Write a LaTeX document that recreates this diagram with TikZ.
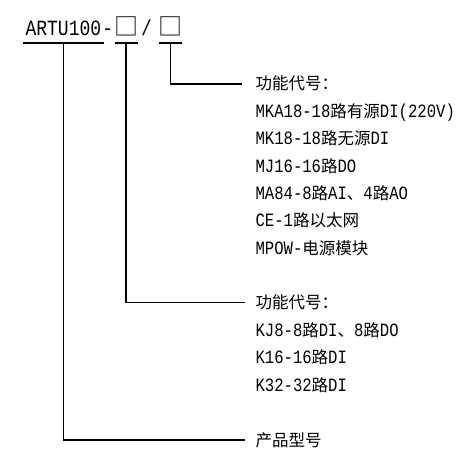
\documentclass[tikz,border=0pt]{standalone}
\usepackage{fontspec}
\setmainfont{Noto Sans CJK SC}
\newfontfamily\latfont{Liberation Mono}[FakeStretch=0.83]
\newcommand\latn[1]{{\latfont\fontsize{18.8bp}{20bp}\selectfont #1}}
\newcommand\ttl[1]{{\latfont\fontsize{21.7bp}{24bp}\selectfont #1}}
\begin{document}
\begin{tikzpicture}[x=1bp,y=-1bp,line width=1.1bp,
  txt/.style={inner sep=0,anchor=west,text height=14bp,text depth=2bp,font=\fontsize{16.5bp}{20bp}\selectfont},
  ttlpart/.style={inner sep=0,anchor=base west},
  boxglyph/.style={inner sep=0,font=\fontsize{24bp}{26bp}\selectfont}]
\useasboundingbox (0,0) rectangle (474,476);
% title
\node[ttlpart,inner xsep=2bp] (m) at (23,36) {\ttl{ARTU100}};
\node[ttlpart] (d) at ([xshift=-2bp]m.base east) {\ttl{-}};
\node[boxglyph] (b1) at (126,26.3) {□};
\node[inner sep=0,anchor=base] (s) at (146.5,36) {\ttl{/}};
\node[boxglyph] (b2) at (170.5,26.3) {□};
\coordinate (ul) at (0,43);
\draw (m.west |- ul) -- (m.east |- ul);
\draw ([xshift=-11.5bp]b1.center |- ul) -- ([xshift=11.5bp]b1.center |- ul);
\draw ([xshift=-11.5bp]b2.center |- ul) -- ([xshift=11.5bp]b2.center |- ul);
% group 1
\node[txt] (h1) at (255,84) {功能代号：};
\node[txt] (a1) at (255,111.5) {\latn{MKA18-18}路有源\latn{DI(220V)}};
\node[txt] (a2) at (255,138.8) {\latn{MK18-18}路无源\latn{DI}};
\node[txt] (a3) at (255,166.1) {\latn{MJ16-16}路\latn{DO}};
\node[txt] (a4) at (255,193.4) {\latn{MA84-8}路\latn{AI}、\latn{4}路\latn{AO}};
\node[txt] (a5) at (255,220.7) {\latn{CE-1}路以太网};
\node[txt] (a6) at (255,248) {\latn{MPOW-}电源模块};
% group 2
\node[txt] (h2) at (255,302.5) {功能代号：};
\node[txt] (k1) at (255,330) {\latn{KJ8-8}路\latn{DI}、\latn{8}路\latn{DO}};
\node[txt] (k2) at (255,357.5) {\latn{K16-16}路\latn{DI}};
\node[txt] (k3) at (255,385) {\latn{K32-32}路\latn{DI}};
% product
\node[txt] (p) at (255,440) {产品型号};
% connectors
\draw (b2.center |- ul) |- ([xshift=-13bp]h1.west);
\draw (b1.center |- ul) |- ([xshift=-10bp]h2.west);
\draw (m.center |- ul) |- ([xshift=-10bp]p.west);
\end{tikzpicture}
\end{document}
